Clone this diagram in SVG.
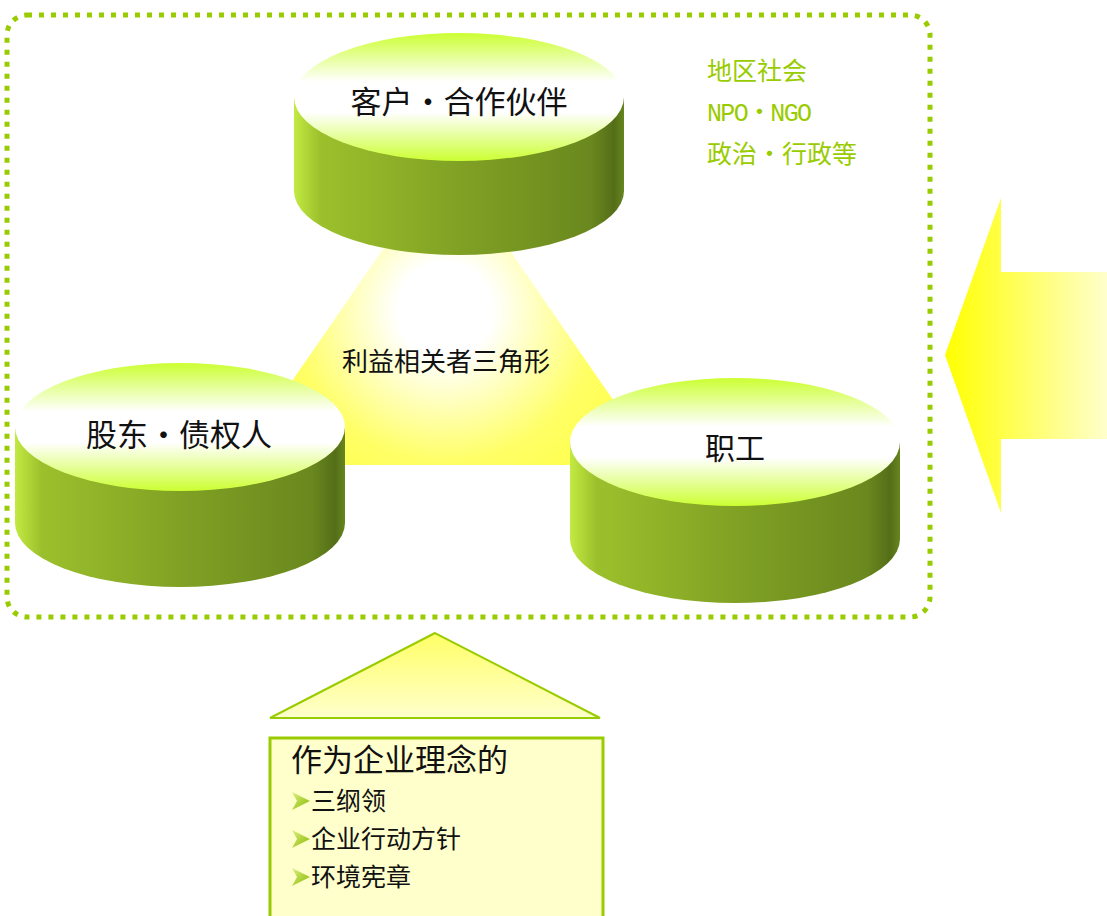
<svg xmlns="http://www.w3.org/2000/svg" width="1107" height="916" viewBox="0 0 1107 916">
<defs>
<linearGradient id="side" x1="0" y1="0" x2="1" y2="0">
<stop offset="0" stop-color="#c2ea42"/>
<stop offset="0.08" stop-color="#9cc02c"/>
<stop offset="0.5" stop-color="#80a124"/>
<stop offset="0.9" stop-color="#6a881e"/>
<stop offset="0.97" stop-color="#546e18"/>
<stop offset="1" stop-color="#66861e"/>
</linearGradient>
<linearGradient id="top" x1="0" y1="0" x2="0" y2="1">
<stop offset="0" stop-color="#ccff33"/>
<stop offset="0.38" stop-color="#ffffff"/>
<stop offset="0.62" stop-color="#ffffff"/>
<stop offset="1" stop-color="#ccff33"/>
</linearGradient>
<radialGradient id="tri" cx="445" cy="310" r="190" gradientUnits="userSpaceOnUse">
<stop offset="0" stop-color="#ffffff"/>
<stop offset="0.25" stop-color="#ffffff"/>
<stop offset="0.8" stop-color="#ffff66"/>
<stop offset="1" stop-color="#ffff55"/>
</radialGradient>
<linearGradient id="arrow" x1="0" y1="0" x2="1" y2="0">
<stop offset="0" stop-color="#ffff00"/>
<stop offset="1" stop-color="#ffffcc"/>
</linearGradient>
<linearGradient id="roof" x1="0" y1="0" x2="0" y2="1">
<stop offset="0" stop-color="#ffff66"/>
<stop offset="1" stop-color="#ffffcc"/>
</linearGradient>
<linearGradient id="bul" x1="0" y1="0" x2="1" y2="1">
<stop offset="0" stop-color="#ddf080"/>
<stop offset="1" stop-color="#88b800"/>
</linearGradient>
</defs>
<style>
.cyl-side{fill:url(#side);}
.cyl-top{fill:url(#top);}
.lbl{font-family:"Noto Sans CJK SC","Liberation Serif",serif;fill:#111;text-anchor:middle;}
.grn{font-family:"Liberation Mono","Noto Sans CJK SC",monospace;fill:#99cc00;font-size:25px;}
.box{font-family:"Noto Sans CJK SC",sans-serif;fill:#111;}
</style>
<g id="frame">
<rect x="7" y="15" width="923" height="602" rx="20" ry="20" fill="none" stroke="#99cc00" stroke-width="5" stroke-dasharray="5 7"/>
</g>
<g id="triangle">
<polygon points="446,158 234,465 658,465" fill="url(#tri)"/>
<text class="lbl" x="446" y="371" font-size="26">利益相关者三角形</text>
</g>
<g id="customers">
<path class="cyl-side" d="M294,97 L294,191 A165,64 0 0 0 624,191 L624,97 Z"/>
<ellipse class="cyl-top" cx="459" cy="97" rx="165" ry="64"/>
<text class="lbl" x="459" y="113" font-size="31">客户・合作伙伴</text>
</g>
<g id="shareholders">
<path class="cyl-side" d="M15,427 L15,523 A165,64 0 0 0 345,523 L345,427 Z"/>
<ellipse class="cyl-top" cx="180" cy="427" rx="165" ry="64"/>
<text class="lbl" x="179" y="446" font-size="31">股东・债权人</text>
</g>
<g id="employees">
<path class="cyl-side" d="M570,442 L570,539 A165,64 0 0 0 900,539 L900,442 Z"/>
<ellipse class="cyl-top" cx="735" cy="442" rx="165" ry="64"/>
<text class="lbl" x="735" y="459" font-size="30">职工</text>
</g>
<g id="others">
<text class="grn" x="707" y="80" font-family="Noto Sans CJK SC">地区社会</text>
<text class="grn" x="707" y="121" font-size="24" textLength="105">NPO・NGO</text>
<text class="grn" x="707" y="163" font-family="Noto Sans CJK SC" font-size="26">政治・行政等</text>
</g>
<g id="arrow-right">
<polygon points="945,355 1001,198 1001,272 1107,272 1107,439 1001,439 1001,513" fill="url(#arrow)"/>
</g>
<g id="philosophy">
<polygon points="435,633 270,718 600,718" fill="url(#roof)" stroke="#99cc00" stroke-width="2"/>
<rect x="270" y="738" width="333" height="190" fill="#ffffcc" stroke="#99cc00" stroke-width="3"/>
<text class="box" x="291" y="771" font-size="31">作为企业理念的</text>
<polygon points="292,792 310,801 292,810 297,801" fill="url(#bul)"/>
<text class="box" x="311" y="810" font-size="25">三纲领</text>
<polygon points="292,830 310,839 292,848 297,839" fill="url(#bul)"/>
<text class="box" x="311" y="848" font-size="25">企业行动方针</text>
<polygon points="292,868 310,877 292,886 297,877" fill="url(#bul)"/>
<text class="box" x="311" y="886" font-size="25">环境宪章</text>
</g>
</svg>
